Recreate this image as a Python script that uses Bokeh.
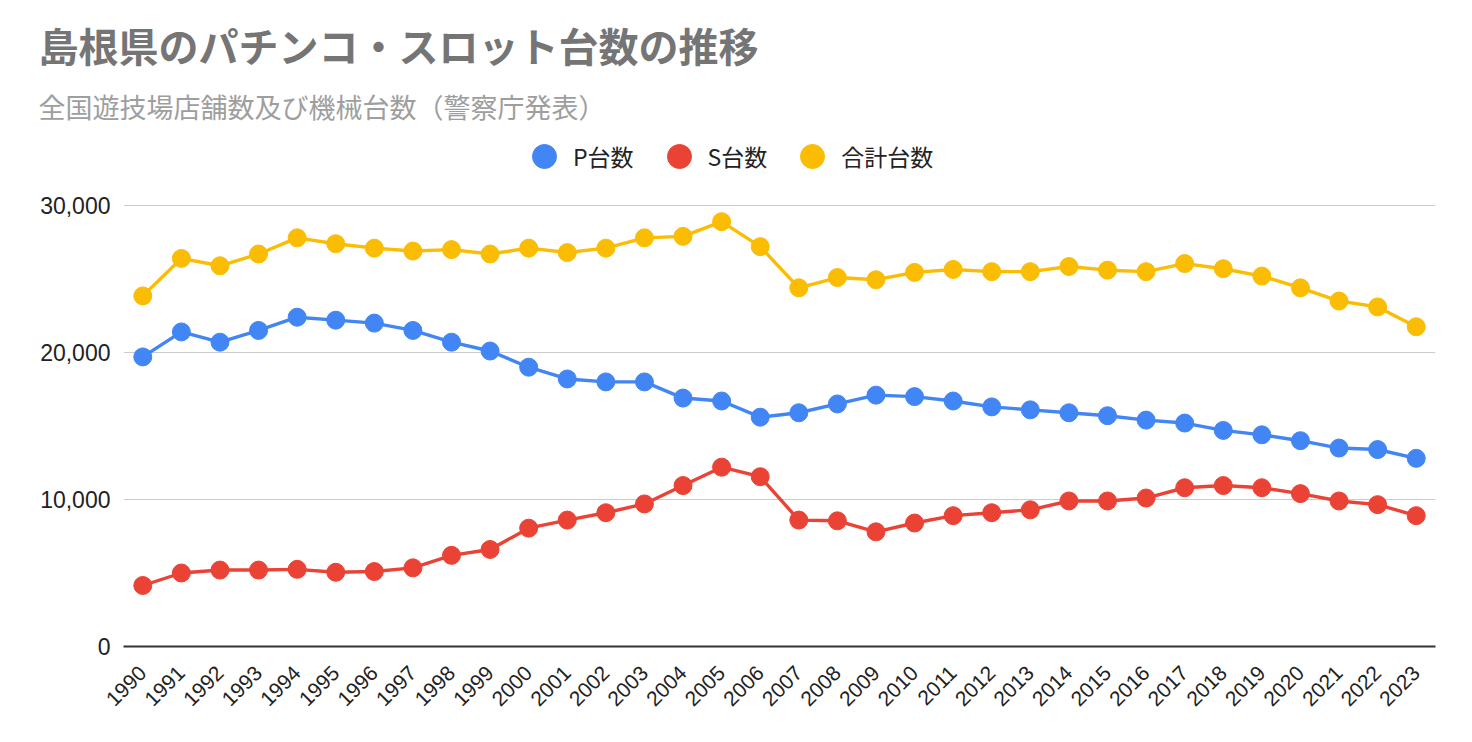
import math
from bokeh.plotting import figure
from bokeh.models import (ColumnDataSource, Range1d, FixedTicker, NumeralTickFormatter,
                          Title, Legend, LegendItem)
from bokeh.embed import file_html
from bokeh.resources import INLINE

years = list(range(1990, 2024))
p_units = [19700, 21400, 20700, 21500, 22400, 22200, 22000, 21500, 20700, 20100,
           19000, 18200, 18000, 18000, 16900, 16700, 15600, 15900, 16500, 17100,
           17000, 16700, 16300, 16100, 15900, 15700, 15400, 15200, 14700, 14400,
           14000, 13500, 13400, 12800]
s_units = [4150, 5000, 5200, 5200, 5250, 5050, 5100, 5350, 6200, 6600,
           8050, 8600, 9100, 9700, 10950, 12200, 11550, 8600, 8550, 7800,
           8400, 8900, 9100, 9300, 9900, 9900, 10100, 10800, 10950, 10800,
           10400, 9900, 9650, 8900]
total_units = [23850, 26400, 25900, 26700, 27800, 27400, 27100, 26900, 27000, 26700,
               27100, 26800, 27100, 27800, 27900, 28900, 27200, 24400, 25100, 24950,
               25450, 25650, 25500, 25500, 25850, 25600, 25500, 26050, 25700, 25200,
               24400, 23500, 23100, 21750]
series_names = ["P台数", "S台数", "合計台数"]
colors = ["#4285F4", "#EA4335", "#FBBC04"]
y_ticks = [0, 10000, 20000, 30000]
title_text = "島根県のパチンコ・スロット台数の推移"
subtitle_text = "全国遊技場店舗数及び機械台数（警察庁発表）"

FONT = "Liberation Sans"
JP = "Noto Sans CJK JP"

# layout (pixels)
FRAME_H = 510          # frame height (top of frame to x axis)
GRID_H = 441           # pixel distance from 0 to 30,000
y_top = y_ticks[-1] * FRAME_H / GRID_H

p = figure(frame_width=1312, frame_height=FRAME_H, output_backend="svg",
           toolbar_location=None,
           x_range=Range1d(1989.5, 2023.5), y_range=Range1d(0, y_top),
           min_border_left=123, min_border_right=29, min_border_bottom=90,
           min_border_top=0)
p.outline_line_color = None
p.background_fill_color = "white"
p.border_fill_color = "white"

src = ColumnDataSource(dict(x=years, p=p_units, s=s_units, t=total_units))
items = []
for key, name, c in zip(["p", "s", "t"], series_names, colors):
    p.line("x", key, source=src, line_color=c, line_width=3.4)
    el = p.ellipse("x", key, source=src, width=18, height=18, width_units="screen",
                   height_units="screen", fill_color=c, line_color=c)
    items.append(LegendItem(label=name, renderers=[el]))

legend = Legend(items=items, orientation="horizontal", location=(406, 473),
                label_text_font=JP, label_text_font_size="23px", label_text_color="#222222",
                glyph_width=30, glyph_height=30, spacing=30, label_standoff=14,
                border_line_color=None, background_fill_alpha=0, margin=0, padding=0)
p.add_layout(legend, "center")

p.xaxis.ticker = FixedTicker(ticks=years)
p.xaxis.major_label_orientation = math.pi / 4
p.xaxis.major_label_text_font = FONT
p.xaxis.major_label_text_font_size = "21px"
p.xaxis.major_label_text_color = "#222222"
p.xaxis.axis_line_color = "#333333"
p.xaxis.axis_line_width = 2
p.xaxis.major_tick_line_color = None
p.xaxis.minor_tick_line_color = None
p.xaxis.major_tick_out = 0
p.xaxis.major_tick_in = 0
p.xaxis.major_label_standoff = 23
p.xgrid.grid_line_color = None

p.yaxis.ticker = FixedTicker(ticks=y_ticks)
p.yaxis.formatter = NumeralTickFormatter(format="0,0")
p.yaxis.major_label_text_font = FONT
p.yaxis.major_label_text_font_size = "23px"
p.yaxis.major_label_text_color = "#222222"
p.yaxis.axis_line_color = None
p.yaxis.major_tick_line_color = None
p.yaxis.minor_tick_line_color = None
p.yaxis.major_tick_out = 0
p.yaxis.major_tick_in = 0
p.yaxis.major_label_standoff = 13
p.ygrid.grid_line_color = "#cccccc"
p.ygrid.grid_line_width = 1

sub = Title(text=subtitle_text, text_font=JP, text_font_size="27px",
            text_font_style="normal", text_color="#9e9e9e", align="left", offset=-85,
            standoff=22)
p.add_layout(sub, "above")
main = Title(text=title_text, text_font=JP, text_font_size="40px",
             text_font_style="bold", text_color="#757575", align="left", offset=-85,
             standoff=0)
p.add_layout(main, "above")
spacer = Title(text=" ", text_font_size="1px", standoff=10)
p.add_layout(spacer, "above")

open("out.html", "w").write(file_html(p, INLINE))
